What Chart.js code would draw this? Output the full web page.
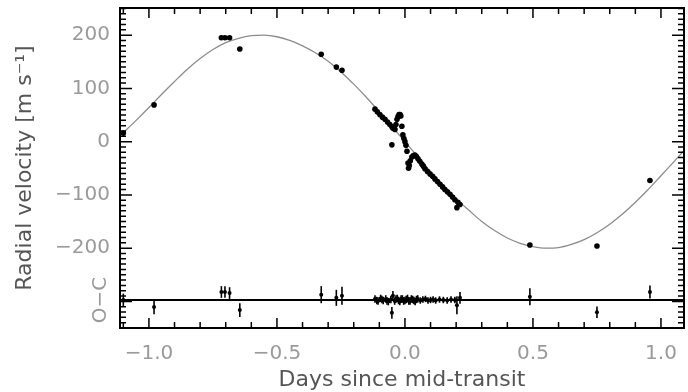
<!DOCTYPE html>
<html>
<head>
<meta charset="utf-8">
<script src="https://cdn.jsdelivr.net/npm/chart.js@4/dist/chart.umd.min.js"></script>
<style>
html, body { margin: 0; padding: 0; background: #fff; }
</style>
</head>
<body>
<canvas id="rv" width="688" height="392"></canvas>
<script>
// measured radial velocities: days since mid-transit, m/s
let rvDays = [-1.100, -0.980, -0.717, -0.703, -0.685, -0.645, -0.327, -0.268, -0.246,
  -0.117, -0.108, -0.098, -0.088, -0.078, -0.068, -0.059, -0.051, -0.047, -0.039,
  -0.035, -0.031, -0.027, -0.023, -0.019, -0.016, -0.012, -0.008, -0.004, 0.000,
  0.004, 0.008, 0.012, 0.014, 0.017, 0.021, 0.027, 0.033, 0.039, 0.045, 0.051,
  0.058, 0.066, 0.072, 0.078, 0.088, 0.098, 0.108, 0.117, 0.127, 0.137, 0.147,
  0.156, 0.166, 0.176, 0.186, 0.195, 0.203, 0.207, 0.215, -0.051, 0.488, 0.750, 0.957];
let rvVel = [16, 69, 195, 195, 195, 174, 164, 140, 134,
  61, 56, 51, 46, 42, 37, 32, 28, 25, 23,
  32, 42, 47, 51, 51, 48, 29, 13, 6, 0,
  -7, -18, -40, -50, -45, -36, -29, -26, -25, -28, -32,
  -37, -42, -46, -51, -56, -61, -65, -70, -75, -80, -85,
  -90, -94, -99, -104, -109, -124, -114, -118, -6, -194, -196, -73];

// orbital fit curve
let fitDays = [-1.113, -1.05, -1.0, -0.95, -0.9, -0.85, -0.8, -0.75, -0.7, -0.65, -0.6, -0.55,
  -0.5, -0.45, -0.4, -0.35, -0.3, -0.25, -0.2, -0.15, -0.1, -0.05, 0.0,
  0.05, 0.1, 0.15, 0.2, 0.25, 0.3, 0.35, 0.4, 0.45, 0.5, 0.55,
  0.6, 0.65, 0.7, 0.75, 0.8, 0.85, 0.9, 0.95, 1.0, 1.05, 1.09];
let fitVel = [11, 40, 64, 89, 113, 136, 156, 173, 186, 194, 199, 200,
  197, 190, 180, 167, 151, 131, 108, 83, 56, 28, 0,
  -28, -56, -82, -107, -129, -150, -167, -181, -191, -197, -200,
  -199, -193, -184, -171, -155, -136, -114, -90, -64, -38, -17];

// residuals (O-C) and their error bars, m/s
let ocDays = [-1.100, -0.980, -0.717, -0.703, -0.685, -0.645, -0.327, -0.268, -0.246,
  -0.117, -0.110, -0.105, -0.095, -0.090, -0.085, -0.075, -0.070, -0.065, -0.055,
  -0.047, -0.040, -0.035, -0.030, -0.025, -0.020, -0.015, -0.010, -0.005, 0.000,
  0.005, 0.010, 0.015, 0.020, 0.025, 0.030, 0.035, 0.040, 0.045, 0.050, 0.060,
  0.070, 0.080, 0.090, 0.100, 0.110, 0.120, 0.135, 0.150, 0.165, 0.180, 0.195,
  -0.051, 0.203, 0.215, 0.488, 0.750, 0.957];
let ocRes = [0, -13, 15, 15, 13, -19, 10, 4, 8,
  2, -1, -2, 3, 1, -1, 2, -2, -3, 1,
  8, -2, 2, 3, -1, -3, 2, 2, -2, -1,
  1, 3, -2, -2, 2, 1, -1, -3, 1, 2,
  -1, 1, 2, -1, 0, 1, -1, 1, 0, -1,
  1, 0, -24, -10, 4, 6, -23, 15];
let ocErr = [12, 14, 11, 11, 11, 13, 16, 15, 17,
  7, 7, 7, 7, 7, 7, 7, 7, 7, 7,
  9, 7, 7, 7, 7, 7, 7, 7, 7, 7,
  7, 7, 7, 7, 7, 7, 7, 7, 7, 7,
  6, 6, 6, 6, 6, 6, 6, 6, 6, 6,
  6, 6, 11, 17, 11, 16, 11, 12];

let xTicks = [-1.0, -0.5, 0.0, 0.5, 1.0];
let yTicks = [-200, -100, 0, 100, 200];

Chart.defaults.font.family = "'DejaVu Sans', sans-serif";

function minus(s) { return s.replace('-', '\u2212'); }

// frame, inward ticks on all four sides, residual error bars and O-C zero line
const framePlugin = {
  id: 'frame',
  afterDatasetsDraw(chart) {
    const { ctx, chartArea: a, scales } = chart;
    const x = scales.x, y = scales.y, oc = scales.oc;
    ctx.save();
    ctx.strokeStyle = '#000';
    ctx.lineWidth = 1.6;
    ocDays.forEach((d, i) => {
      const px = x.getPixelForValue(d);
      ctx.beginPath();
      ctx.moveTo(px, oc.getPixelForValue(ocRes[i] - ocErr[i]));
      ctx.lineTo(px, oc.getPixelForValue(ocRes[i] + ocErr[i]));
      ctx.stroke();
    });
    const z = oc.getPixelForValue(0);
    ctx.lineWidth = 2;
    ctx.beginPath();
    ctx.moveTo(a.left, z);
    ctx.lineTo(a.right, z);
    ctx.stroke();

    ctx.lineWidth = 1.5;
    ctx.beginPath();
    for (let k = Math.ceil(x.min * 10); k <= Math.floor(x.max * 10); k++) {
      const px = x.getPixelForValue(k / 10);
      const len = (k % 5 === 0) ? 10 : 6;
      ctx.moveTo(px, a.bottom); ctx.lineTo(px, a.bottom - len);
      ctx.moveTo(px, a.top); ctx.lineTo(px, a.top + len);
    }
    for (let k = Math.ceil(y.min / 10); k <= Math.floor(y.max / 10); k++) {
      const py = y.getPixelForValue(k * 10);
      const len = (k % 10 === 0) ? 12 : 6;
      ctx.moveTo(a.left, py); ctx.lineTo(a.left + len, py);
      ctx.moveTo(a.right, py); ctx.lineTo(a.right - len, py);
    }
    ctx.stroke();

    ctx.lineWidth = 2;
    ctx.strokeRect(a.left, a.top, a.right - a.left, a.bottom - a.top);

    ctx.translate(101, z);
    ctx.rotate(-Math.PI / 2);
    ctx.fillStyle = '#999';
    ctx.font = "20px 'DejaVu Sans'";
    ctx.textAlign = 'center';
    ctx.textBaseline = 'middle';
    ctx.fillText('O\u2212C', 0, 0);
    ctx.restore();
  }
};

let chart1 = document.getElementById('rv').getContext('2d');

let rvChart = new Chart(chart1, {
  type: 'scatter',
  data: {
    datasets: [{
      label: 'RV',
      data: rvDays.map((d, i) => ({ x: d, y: rvVel[i] })),
      pointRadius: 2.8,
      pointBackgroundColor: '#000',
      pointBorderWidth: 0,
      yAxisID: 'y'
    }, {
      label: 'O-C',
      data: ocDays.map((d, i) => ({ x: d, y: ocRes[i] })),
      pointRadius: 2,
      pointBackgroundColor: '#000',
      pointBorderWidth: 0,
      yAxisID: 'oc'
    }, {
      label: 'fit',
      data: fitDays.map((d, i) => ({ x: d, y: fitVel[i] })),
      showLine: true,
      borderColor: '#8c8c8c',
      borderWidth: 1.3,
      pointRadius: 0,
      cubicInterpolationMode: 'monotone',
      yAxisID: 'y'
    }]
  },
  options: {
    responsive: false,
    animation: false,
    devicePixelRatio: 1,
    layout: { padding: { top: 8, right: 4, left: 0, bottom: 0 } },
    plugins: { legend: { display: false }, tooltip: { enabled: false } },
    scales: {
      x: {
        type: 'linear',
        min: -1.113,
        max: 1.09,
        afterBuildTicks: (s) => { s.ticks = xTicks.map(v => ({ value: v })); },
        afterFit: (s) => { s.height = 64; s.paddingLeft = 0; s.paddingRight = 0; },
        grid: { display: false, drawTicks: false },
        border: { display: false },
        ticks: {
          autoSkip: false,
          maxRotation: 0,
          padding: 14,
          color: '#9a9a9a',
          font: { size: 20 },
          callback: (v) => minus(v.toFixed(1))
        },
        title: {
          display: true,
          text: 'Days since mid-transit',
          color: '#555',
          font: { size: 22, lineHeight: 1 },
          padding: { top: 0, bottom: 1 }
        }
      },
      y: {
        type: 'linear',
        position: 'left',
        min: -350,
        max: 251,
        afterBuildTicks: (s) => { s.ticks = yTicks.map(v => ({ value: v })); },
        afterFit: (s) => { s.width = 120; s.paddingTop = 0; s.paddingBottom = 0; },
        grid: { display: false, drawTicks: false },
        border: { display: false },
        ticks: {
          autoSkip: false,
          padding: 10,
          color: '#9a9a9a',
          font: { size: 20 },
          callback: (v) => minus(String(v))
        },
        title: {
          display: true,
          text: 'Radial velocity [m s\u207B\u00B9]',
          color: '#555',
          font: { size: 22, lineHeight: 1 },
          padding: { top: 14, bottom: 0 }
        }
      },
      oc: {
        type: 'linear',
        display: false,
        min: -52.6,
        max: 548.4
      }
    }
  },
  plugins: [framePlugin]
});
</script>
</body>
</html>
